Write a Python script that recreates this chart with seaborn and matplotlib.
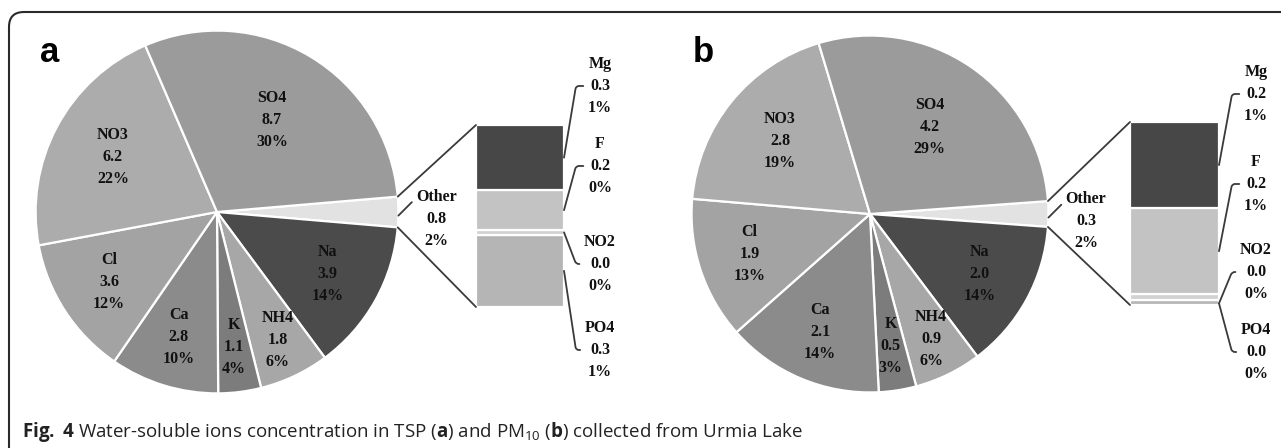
import numpy as np
import matplotlib.pyplot as plt
import seaborn as sns
from matplotlib.patches import ConnectionPatch, FancyBboxPatch

W, H = 1281, 448

# main pie slices, clockwise after the split-off "Other" slice
main_ions = ["Na", "NH4", "K", "Ca", "Cl", "NO3", "SO4"]
tsp_main = [3.9, 1.8, 1.1, 2.8, 3.6, 6.2, 8.7]
tsp_main_pct = ["14%", "6%", "4%", "10%", "12%", "22%", "30%"]
pm_main = [2.0, 0.9, 0.5, 2.1, 1.9, 2.8, 4.2]
pm_main_pct = ["14%", "6%", "3%", "14%", "13%", "19%", "29%"]

# the "Other" slice, broken down in the bar (top to bottom)
other_ions = ["Mg", "F", "NO2", "PO4"]
tsp_other = [0.28, 0.17, 0.02, 0.31]
tsp_other_pct = ["1%", "0%", "0%", "1%"]
tsp_other_total_pct = "2%"
pm_other = [0.16, 0.16, 0.01, 0.01]
pm_other_pct = ["1%", "1%", "0%", "0%"]
pm_other_total_pct = "2%"

colors = {"Other": "#e2e2e2", "Na": "#4b4b4b", "NH4": "#a7a7a7", "K": "#7c7c7c",
          "Ca": "#8b8b8b", "Cl": "#a3a3a3", "NO3": "#acacac", "SO4": "#9b9b9b",
          "Mg": "#474747", "F": "#c3c3c3", "NO2": "#d2d2d2", "PO4": "#b5b5b5"}
lab_r = {"Na": 0.70, "NH4": 0.78, "K": 0.75, "Ca": 0.72, "Cl": 0.71, "NO3": 0.65, "SO4": 0.59}

sns.set_theme(style="white")
plt.rcParams["font.family"] = ["Liberation Serif", "DejaVu Serif"]
plt.rcParams["mathtext.fontset"] = "custom"
plt.rcParams["mathtext.rm"] = "Open Sans"
plt.rcParams["mathtext.bf"] = "Open Sans:bold"

fig = plt.figure(figsize=(W / 100, H / 100), dpi=100)
lab_kw = dict(fontsize=11.5, fontweight="bold", linespacing=1.5, ha="center", va="center", color="#111111")
line_kw = dict(color="#3a3a3a", lw=1.3)


def px_rect(x0, y0, x1, y1):
    return [x0 / W, 1 - y1 / H, (x1 - x0) / W, (y1 - y0) / H]


def draw_panel(letter, cx, cy, r, bar_box, main_vals, main_pct, oth_vals, oth_pct, oth_total_pct, side_pos):
    ax = fig.add_axes(px_rect(cx - r, cy - r, cx + r, cy + r))
    other_total = sum(oth_vals)
    vals = [other_total] + main_vals
    names = ["Other"] + main_ions
    frac0 = other_total / sum(vals)
    wedges, _ = ax.pie(vals, colors=[colors[n] for n in names], startangle=180 * frac0,
                       counterclock=False, radius=1,
                       wedgeprops=dict(edgecolor="white", linewidth=1.6))
    ax.set_xlim(-1.02, 1.02)
    ax.set_ylim(-1.02, 1.02)
    ax.axis("off")

    for w, n, v, p in zip(wedges[1:], main_ions, main_vals, main_pct):
        mid = np.deg2rad((w.theta1 + w.theta2) / 2)
        ax.text(lab_r[n] * np.cos(mid), lab_r[n] * np.sin(mid), f"{n}\n{v:.1f}\n{p}", **lab_kw)

    w0 = wedges[0]
    ax.annotate(f"Other\n{other_total:.1f}\n{oth_total_pct}", xy=(1.0, -0.02), xytext=(1.21, -0.04),
                annotation_clip=False, **lab_kw,
                arrowprops=dict(arrowstyle="-", relpos=(0, 0.84), shrinkA=1, shrinkB=0,
                                connectionstyle="angle,angleA=0,angleB=45,rad=2", **line_kw))

    # stacked bar for the Other breakdown
    bx = fig.add_axes(px_rect(*bar_box))
    bottoms = np.cumsum([0] + oth_vals[::-1][:-1])
    for n, v, b in zip(other_ions[::-1], oth_vals[::-1], bottoms):
        bx.bar(0, v, bottom=b, width=1, color=colors[n], edgecolor="white", linewidth=1.6)
    bx.set_xlim(-0.5, 0.5)
    bx.set_ylim(0, other_total)
    bx.axis("off")
    sns.despine(ax=bx, left=True, bottom=True)

    t1, t2 = np.deg2rad(w0.theta2), np.deg2rad(w0.theta1)
    for t, yb in [(t1, other_total), (t2, 0)]:
        con = ConnectionPatch(xyA=(np.cos(t), np.sin(t)), coordsA=ax.transData,
                              xyB=(-0.5, yb), coordsB=bx.transData, **line_kw)
        fig.add_artist(con)

    # side labels with leader lines
    tops = other_total - np.cumsum([0] + oth_vals[:-1])
    for n, v, p, top, (tx, ty, sy) in zip(other_ions, oth_vals, oth_pct, tops, side_pos):
        seg_y = top - v / 2 if sy is None else sy
        sx, sdy = bx.transData.transform((0.5, seg_y))
        cx_, cy_ = tx - 24, H - ty
        angB = np.degrees(np.arctan2(cy_ - sdy, cx_ - sx))
        bx.annotate(f"{n}\n{v:.1f}\n{p}", xy=(0.5, seg_y), xytext=(tx, H - ty),
                    textcoords="figure pixels", annotation_clip=False, **lab_kw,
                    arrowprops=dict(arrowstyle="-", relpos=(0, 0.5), shrinkA=1, shrinkB=0,
                                    connectionstyle=f"angle,angleA=0,angleB={angB:.1f},rad=3",
                                    **line_kw))

    fig.text((cx - 177) / W, 1 - 52 / H, letter, fontsize=25, fontweight="bold",
             family="Liberation Sans", va="center", ha="left", color="black")


draw_panel("a", 217, 212, 185, (476, 125, 564, 307), tsp_main, tsp_main_pct,
           tsp_other, tsp_other_pct, tsp_other_total_pct,
           [(600, 86, None), (600, 166, None), (600, 264, None), (600, 350, None)])
draw_panel("b", 870, 214, 182, (1130, 122, 1219, 305), pm_main, pm_main_pct,
           pm_other, pm_other_pct, pm_other_total_pct,
           [(1256, 94, None), (1256, 184, None), (1256, 272, 0.003), (1256, 352, 0.003)])

# frame and caption
ov = fig.add_axes([0, 0, 1, 1], zorder=-5)
ov.set_xlim(0, W)
ov.set_ylim(H, 0)
ov.axis("off")
ov.add_patch(FancyBboxPatch((9, 12), 1500, 800, boxstyle="round,pad=0,rounding_size=15",
                            fill=False, ec="#2a2a2a", lw=1.5))
fig.text(22 / W, 1 - 437 / H,
         r"$\mathbf{Fig.}$ $\mathbf{4}$ Water-soluble ions concentration in TSP ($\mathbf{a}$) and PM$_{10}$ ($\mathbf{b}$) collected from Urmia Lake",
         fontsize=13.5, family="Open Sans", va="baseline", ha="left", color="#222222")

fig.savefig("out.png", dpi=100)
